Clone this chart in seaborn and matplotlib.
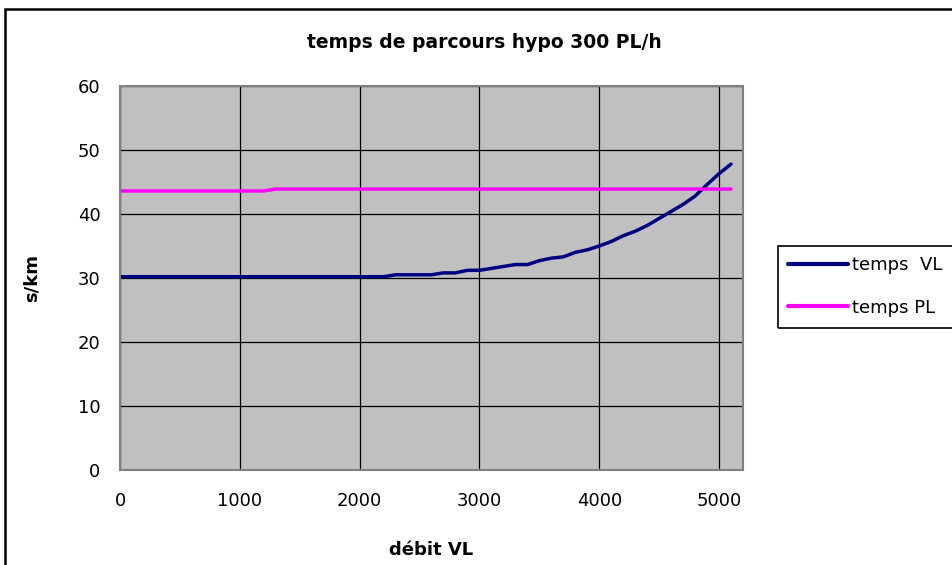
import pandas as pd
import seaborn as sns
import matplotlib.pyplot as plt
from matplotlib.patches import Rectangle

# valeurs
debit_vl = [0, 100, 200, 300, 400, 500, 600, 700, 800, 900,
            1000, 1100, 1200, 1300, 1400, 1500, 1600, 1700, 1800, 1900,
            2000, 2100, 2200, 2300, 2400, 2500, 2600, 2700, 2800, 2900,
            3000, 3100, 3200, 3300, 3400, 3500, 3600, 3700, 3800, 3900,
            4000, 4100, 4200, 4300, 4400, 4500, 4600, 4700, 4800, 4900,
            5000, 5100]
temps_vl = [30.2, 30.2, 30.2, 30.2, 30.2, 30.2, 30.2, 30.2, 30.2, 30.2,
            30.2, 30.2, 30.2, 30.2, 30.2, 30.2, 30.2, 30.2, 30.2, 30.2,
            30.2, 30.2, 30.2, 30.5, 30.5, 30.5, 30.5, 30.8, 30.8, 31.2,
            31.2, 31.5, 31.8, 32.1, 32.1, 32.7, 33.1, 33.3, 34.0, 34.4,
            35.0, 35.7, 36.6, 37.3, 38.2, 39.3, 40.4, 41.5, 42.8, 44.6,
            46.3, 47.8]
temps_pl = [43.6, 43.6, 43.6, 43.6, 43.6, 43.6, 43.6, 43.6, 43.6, 43.6,
            43.6, 43.6, 43.6, 43.9, 43.9, 43.9, 43.9, 43.9, 43.9, 43.9,
            43.9, 43.9, 43.9, 43.9, 43.9, 43.9, 43.9, 43.9, 43.9, 43.9,
            43.9, 43.9, 43.9, 43.9, 43.9, 43.9, 43.9, 43.9, 43.9, 43.9,
            43.9, 43.9, 43.9, 43.9, 43.9, 43.9, 43.9, 43.9, 43.9, 43.9,
            43.9, 43.9]
series_names = ['temps  VL', 'temps PL']
series_colors = ['#000080', '#FF00FF']
x_ticks = [0, 1000, 2000, 3000, 4000, 5000]
y_ticks = [0, 10, 20, 30, 40, 50, 60]

df = pd.DataFrame({
    'debit': debit_vl * 2,
    'temps': temps_vl + temps_pl,
    'serie': [series_names[0]] * len(debit_vl) + [series_names[1]] * len(debit_vl),
})

sns.set_style('white')
plt.rcParams['font.family'] = ['DejaVu Sans']
plt.rcParams['text.color'] = 'black'
plt.rcParams['axes.labelcolor'] = 'black'
plt.rcParams['xtick.color'] = 'black'
plt.rcParams['ytick.color'] = 'black'

fig = plt.figure(figsize=(9.52, 5.65), dpi=100)
ax = fig.add_axes([120 / 952, 1 - 470 / 565, 623 / 952, 384 / 565])
ax.set_facecolor('#C0C0C0')

sns.lineplot(data=df, x='debit', y='temps', hue='serie', hue_order=series_names,
             palette=dict(zip(series_names, series_colors)), linewidth=2.5,
             ax=ax, legend=False)

ax.set_xlim(0, 5200)
ax.set_ylim(0, 60)
ax.set_xticks(x_ticks)
ax.set_yticks(y_ticks)
ax.grid(True, color='black', linewidth=0.9)
ax.set_axisbelow(True)
for side in ['top', 'right', 'left', 'bottom']:
    ax.spines[side].set_color('#808080')
    ax.spines[side].set_linewidth(1.5)
ax.tick_params(axis='both', direction='out', length=5, width=1, color='black',
               labelcolor='black', labelsize=13, pad=9)
ax.tick_params(axis='x', pad=11)

ax.set_xlabel('débit VL', fontsize=13, fontweight='bold', labelpad=22)
ax.set_ylabel('s/km', fontsize=13, fontweight='bold', labelpad=27)
fig.text(484 / 952, 1 - 42 / 565, 'temps de parcours hypo 300 PL/h',
         ha='center', va='center', fontsize=13.5, fontweight='bold')

# légende (cadre coupé par le bord droit comme dans l'original)
fig.patches.append(Rectangle((778 / 952, 1 - 328 / 565), 0.3, 82 / 565,
                             transform=fig.transFigure, fill=False,
                             edgecolor='black', linewidth=1.2))
handles = [plt.Line2D([], [], color=c, linewidth=3) for c in series_colors]
fig.legend(handles, series_names, loc='upper left',
           bbox_to_anchor=(783 / 952, 1 - 251 / 565), fontsize=13,
           frameon=False, handlelength=3.3, handletextpad=0.2,
           labelspacing=1.35, borderpad=0.3, borderaxespad=0)

# cadre extérieur
fig.patches.append(Rectangle((5 / 952, -0.05), 1.0, 1 - 9 / 565 + 0.05,
                             transform=fig.transFigure, fill=False,
                             edgecolor='black', linewidth=1.8))

fig.savefig('out.png', dpi=100)
